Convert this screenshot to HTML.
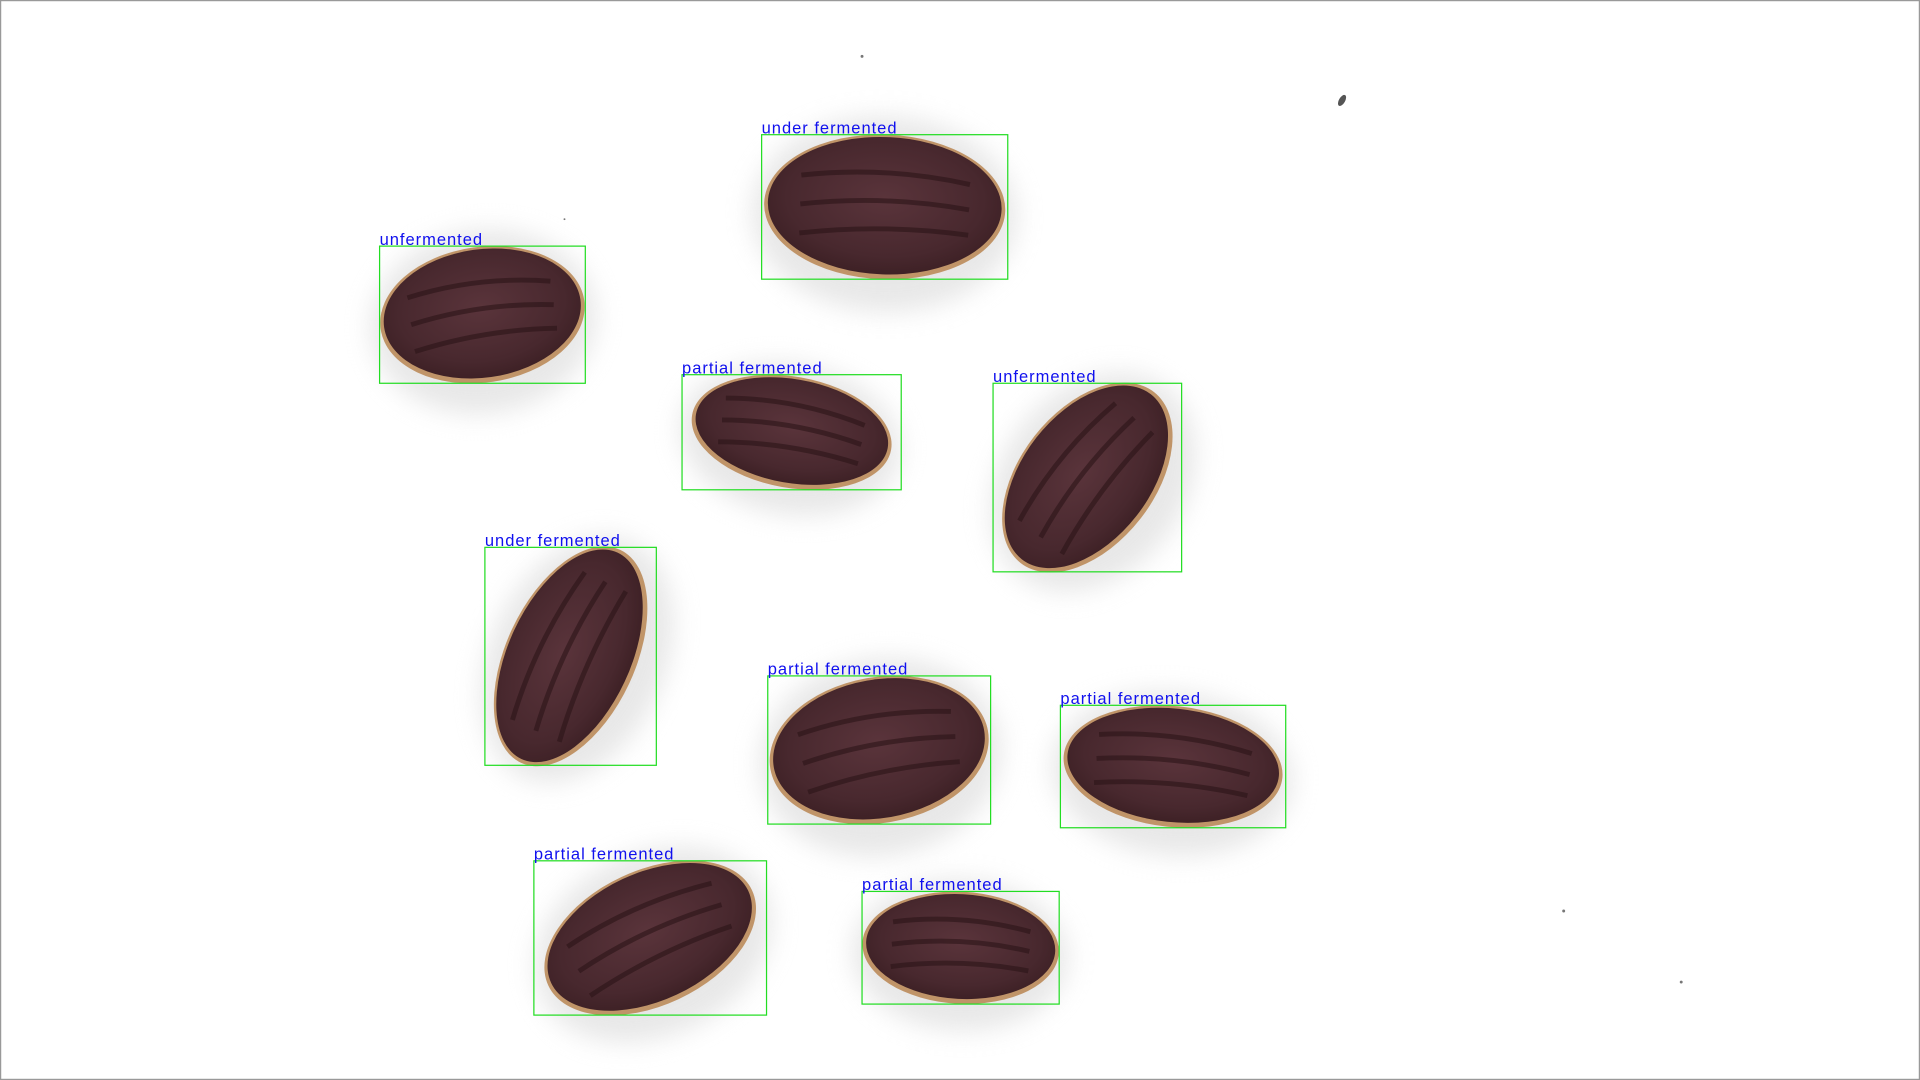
<!DOCTYPE html>
<html><head><meta charset="utf-8"><style>
html,body{margin:0;padding:0;background:#fff;}
svg{display:block;}
</style></head><body>
<svg id="chart" width="1920" height="1080" viewBox="0 0 1568 882" preserveAspectRatio="none" xmlns="http://www.w3.org/2000/svg">
<defs>
<filter id="blur" x="-50%" y="-50%" width="200%" height="200%"><feGaussianBlur stdDeviation="10"/></filter>
<radialGradient id="bean" cx="50%" cy="45%" r="60%"><stop offset="0%" stop-color="#5a343b"/><stop offset="70%" stop-color="#48282e"/><stop offset="100%" stop-color="#3a1e22"/></radialGradient>
</defs>
<rect x="0.5" y="0.5" width="1567" height="881" fill="#fff" stroke="#999" stroke-width="1"/>
<g id="layer"></g>
</svg>
<script>
const labels = ["under fermented","unfermented","partial fermented","unfermented","under fermented","partial fermented","partial fermented","partial fermented","partial fermented"];
const boxX0 = [622,310,557,811,396,627,866,436,704];
const boxY0 = [110,201,306,313,447,552,576,703,728];
const boxX1 = [823,478,736,965,536,809,1050,626,865];
const boxY1 = [228,313,400,467,625,673,676,829,820];
const beanAngle = [2,-8,10,-52,-65,-10,6,-25,3];
const beanRatio = [0.6,0.66,0.55,0.62,0.55,0.66,0.55,0.6,0.57];

const NS = "http://www.w3.org/2000/svg";
const layer = document.getElementById('layer');
function mk(tag, attrs){ const e=document.createElementNS(NS,tag); for(const k in attrs) e.setAttribute(k,attrs[k]); return e; }

[[704,46,1.2],[1277,744,1.2],[1373,802,1.2],[461,179,0.8]].forEach(s=>{
  const c=mk('circle',{cx:s[0],cy:s[1],r:s[2],fill:'#777'});
  
  
  layer.appendChild(c);
});
const sp=mk('ellipse',{cx:1096,cy:82,rx:2.5,ry:5,fill:'#555',transform:'rotate(30 1096 82)'});


layer.appendChild(sp);

for(let i=0;i<labels.length;i++){
  const x0=boxX0[i], y0=boxY0[i], x1=boxX1[i], y1=boxY1[i];
  const cx=(x0+x1)/2, cy=(y0+y1)/2, w=x1-x0, h=y1-y0;
  const a=beanAngle[i]*Math.PI/180, c=Math.cos(a), s=Math.sin(a), k=beanRatio[i];
  const fw=Math.sqrt(c*c+k*k*s*s), fh=Math.sqrt(s*s+k*k*c*c);
  const rx=Math.min((w/2-1)/fw,(h/2-1)/fh)*1.02, ry=rx*k;
  const g=mk('g',{transform:`rotate(${beanAngle[i]} ${cx} ${cy})`});
  
  
  g.appendChild(mk('ellipse',{cx:cx,cy:cy+6,rx:rx*1.1,ry:ry*1.35,fill:'#e2e2e2',filter:'url(#blur)',opacity:0.8}));
  g.appendChild(mk('ellipse',{cx:cx,cy:cy,rx:rx,ry:ry,fill:'#c09468'}));
  g.appendChild(mk('ellipse',{cx:cx,cy:cy-1,rx:rx-3,ry:ry-3,fill:'url(#bean)'}));
  for(let j=-1;j<=1;j++){
    g.appendChild(mk('path',{d:`M${cx-rx*0.7} ${cy+j*ry*0.4} Q${cx} ${cy+j*ry*0.4-10} ${cx+rx*0.7} ${cy+j*ry*0.35}`,stroke:'#2b1417',fill:'none','stroke-width':4,opacity:0.6}));
  }
  layer.appendChild(g);

  const r=mk('rect',{x:x0,y:y0,width:w,height:h,fill:'none',stroke:'#22dd22','stroke-width':1});
  
  
  layer.appendChild(r);
  const t=mk('text',{x:x0,y:y0-1,fill:'#1010ee','font-family':'"Liberation Sans", sans-serif','font-size':13.5,'letter-spacing':0.8});
  t.textContent=labels[i];
  
  
  layer.appendChild(t);
}
</script>
</body></html>
